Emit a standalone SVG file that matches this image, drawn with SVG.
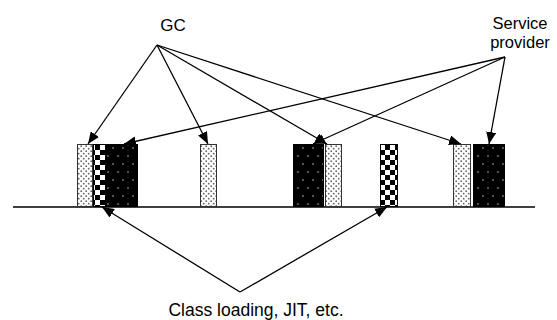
<svg xmlns="http://www.w3.org/2000/svg" width="557" height="320" viewBox="0 0 557 320">
<style>
text{font-family:"Liberation Sans",Arial,sans-serif;font-size:17px;fill:#000}
.ln{stroke:#000;stroke-width:1.3;fill:none;marker-end:url(#ah)}
.light{fill:url(#lightDots);stroke:#333;stroke-width:1}
.dark{fill:url(#darkDots);stroke:#000;stroke-width:1}
.chk{fill:url(#checker);stroke:#000;stroke-width:1}
</style>
<defs>
<marker id="ah" markerUnits="userSpaceOnUse" markerWidth="12" markerHeight="10" refX="12" refY="5" orient="auto">
<path d="M0,0 L12,5 L0,10 z" fill="#000"/>
</marker>
<pattern id="lightDots" patternUnits="userSpaceOnUse" width="5" height="5">
<rect width="5" height="5" fill="#fff"/>
<circle cx="1.2" cy="1.2" r="0.9" fill="#666"/>
<circle cx="3.7" cy="3.7" r="0.9" fill="#666"/>
</pattern>
<pattern id="darkDots" patternUnits="userSpaceOnUse" width="10" height="16">
<rect width="10" height="16" fill="#000"/>
<circle cx="3" cy="4" r="0.8" fill="#bbb"/>
<circle cx="8" cy="12" r="0.8" fill="#bbb"/>
</pattern>
<pattern id="checker" patternUnits="userSpaceOnUse" width="10" height="10">
<rect width="10" height="10" fill="#fff"/>
<rect width="5" height="5" fill="#000"/>
<rect x="5" y="5" width="5" height="5" fill="#000"/>
</pattern>
</defs>
<g id="timeline"><line x1="13" y1="207" x2="535" y2="207" stroke="#000" stroke-width="1.6"/></g>
<g id="block1">
<rect class="light" x="77.5" y="144.5" width="15" height="62"/>
<rect class="chk" x="93.5" y="144.5" width="12" height="62"/>
<rect class="dark" x="106.5" y="144.5" width="31" height="62"/>
</g>
<g id="block2"><rect class="light" x="200.5" y="144.5" width="16" height="62"/></g>
<g id="block3">
<rect class="dark" x="293.5" y="144.5" width="30" height="62"/>
<rect class="light" x="325.5" y="144.5" width="16" height="62"/>
</g>
<g id="block4"><rect class="chk" x="380.5" y="144.5" width="17" height="62"/></g>
<g id="block5">
<rect class="light" x="453.5" y="144.5" width="17" height="62"/>
<rect class="dark" x="473.5" y="144.5" width="31" height="62"/>
</g>
<g id="label-gc"><text x="173" y="31" text-anchor="middle">GC</text></g>
<g id="label-sp"><text x="520" y="29" text-anchor="middle" style="font-size:16.5px">Service</text><text x="520" y="48" text-anchor="middle" style="font-size:16.5px">provider</text></g>
<g id="label-cl"><text x="256" y="316" text-anchor="middle" style="font-size:17.5px">Class loading, JIT, etc.</text></g>
<g id="connectors">
<line class="ln" x1="157" y1="45" x2="88" y2="144"/>
<line class="ln" x1="157" y1="45" x2="208" y2="144"/>
<line class="ln" x1="157" y1="45" x2="327" y2="144"/>
<line class="ln" x1="157" y1="45" x2="461" y2="144"/>
<line class="ln" x1="505" y1="57" x2="124" y2="144"/>
<line class="ln" x1="505" y1="57" x2="313" y2="144"/>
<line class="ln" x1="505" y1="57" x2="489" y2="144"/>
<line class="ln" x1="240" y1="292" x2="102" y2="207"/>
<line class="ln" x1="240" y1="292" x2="387" y2="207"/>
</g>
</svg>
